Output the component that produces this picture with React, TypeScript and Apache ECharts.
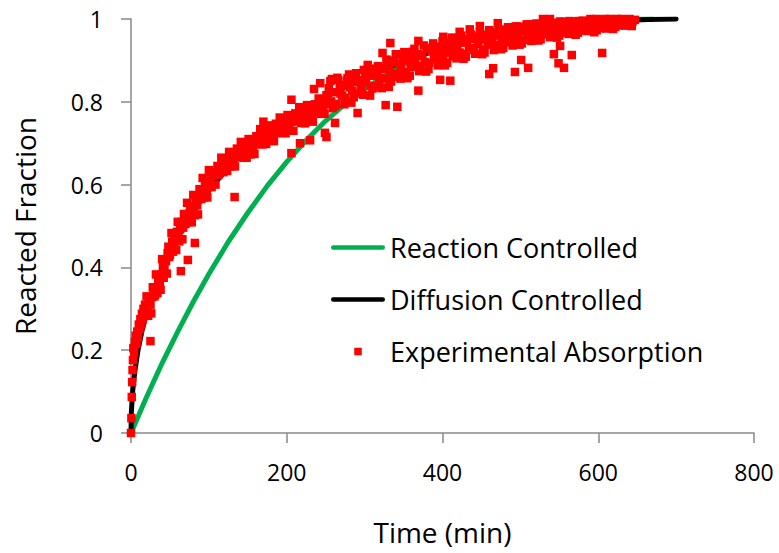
import React, { useEffect, useRef } from "react";
import * as echarts from "echarts";

// Tick settings
const xTicks = { min: 0, max: 800, interval: 200 };
const yTicks = { min: 0, max: 1, interval: 0.2 };

const seriesNames = ["Reaction Controlled", "Diffusion Controlled", "Experimental Absorption"];

// Reaction controlled model curve (time, fraction)
const reactionTime = [0, 20, 40, 60, 80, 100, 125, 150, 175, 200, 225, 250, 275, 300, 350, 400, 450, 500, 550, 600, 670];
const reactionFrac = [0, 0.087, 0.169, 0.245, 0.317, 0.384, 0.462, 0.532, 0.597, 0.655, 0.707, 0.754, 0.795, 0.832, 0.891, 0.935, 0.965, 0.984, 0.994, 0.999, 1];

// Diffusion controlled model curve (time, fraction)
const diffusionTime = [0, 0.45, 2.1, 5, 9, 14.5, 21.5, 30, 40.5, 53, 68, 85, 106, 129, 158, 193, 238, 290, 352, 435, 482, 517, 565, 610, 665, 700];
const diffusionFrac = [0, 0.05, 0.1, 0.15, 0.2, 0.25, 0.3, 0.35, 0.4, 0.45, 0.5, 0.55, 0.6, 0.65, 0.7, 0.75, 0.8, 0.85, 0.9, 0.95, 0.97, 0.98, 0.99, 0.995, 0.999, 1];

// Experimental absorption points [time, fraction]
const expEarly = [
  [0, 0], [0.5, 0.036], [1, 0.087], [1.5, 0.123], [2, 0.152], [2.5, 0.176], [3, 0.205], [4, 0.195],
  [5, 0.22], [6, 0.235], [7, 0.215], [8, 0.245], [9, 0.232], [10, 0.262], [11, 0.25], [12, 0.275],
  [13, 0.262], [14, 0.288], [15, 0.275], [16, 0.3], [17, 0.29], [18, 0.31], [19, 0.298], [25, 0.222],
];
const expRise = [
  [20, 0.33], [22, 0.283], [24, 0.324], [26, 0.289], [28, 0.352], [30, 0.33], [32, 0.383], [34, 0.338],
  [36, 0.376], [38, 0.346], [40, 0.42], [42, 0.375], [44, 0.418], [46, 0.385], [48, 0.45], [50, 0.43],
  [52, 0.483], [54, 0.438], [56, 0.476], [58, 0.442], [60, 0.51], [62, 0.463], [64, 0.504], [66, 0.468],
  [68, 0.529], [70, 0.505], [72, 0.556], [74, 0.509], [76, 0.545], [78, 0.509], [80, 0.575], [82, 0.526],
  [84, 0.565], [86, 0.528], [88, 0.589], [90, 0.565], [92, 0.616], [94, 0.569], [96, 0.605], [98, 0.569], [100, 0.635],
  [21, 0.304], [23, 0.322], [25, 0.31], [27, 0.328], [29, 0.346], [31, 0.334], [33, 0.352], [35, 0.37],
  [37, 0.36], [39, 0.383], [41, 0.405], [43, 0.395], [45, 0.415], [47, 0.435], [49, 0.425], [51, 0.444],
  [53, 0.462], [55, 0.45], [57, 0.468], [59, 0.486], [61, 0.474], [63, 0.492], [65, 0.51], [67, 0.496],
  [69, 0.512], [71, 0.528], [73, 0.514], [75, 0.53], [77, 0.546], [79, 0.532], [81, 0.548], [83, 0.564],
  [85, 0.55], [87, 0.566], [89, 0.582], [91, 0.568], [93, 0.584], [95, 0.6], [97, 0.586], [99, 0.602],
  [64, 0.391], [73, 0.418], [82, 0.459],
];
const expMid = [
  [101, 0.629], [103.5, 0.594], [106, 0.622], [108.5, 0.6], [111, 0.645], [113.5, 0.628], [116, 0.665], [118.5, 0.63],
  [121, 0.659], [123.5, 0.633], [126, 0.679], [128.5, 0.644], [131, 0.669], [133.5, 0.644], [136, 0.687], [138.5, 0.668],
  [141, 0.703], [143.5, 0.665], [146, 0.692], [148.5, 0.665], [151, 0.71], [153.5, 0.673], [156, 0.698], [158.5, 0.674],
  [161, 0.717], [163.5, 0.698], [166, 0.734], [168.5, 0.697], [171, 0.724], [173.5, 0.698], [176, 0.743], [178.5, 0.706],
  [181, 0.73], [183.5, 0.705], [186, 0.747], [188.5, 0.728], [191, 0.762], [193.5, 0.725], [196, 0.751], [198.5, 0.724],
  [201, 0.768], [203.5, 0.731], [206, 0.755], [208.5, 0.73], [211, 0.772], [213.5, 0.753], [216, 0.787], [218.5, 0.749],
  [221, 0.775], [223.5, 0.748], [226, 0.792], [228.5, 0.754], [231, 0.778], [233.5, 0.752], [236, 0.794], [238.5, 0.774],
  [241, 0.808], [243.5, 0.771], [246, 0.798], [248.5, 0.771], [251, 0.816],
  [102, 0.609], [107, 0.628], [112, 0.623], [117, 0.641], [122, 0.659], [127, 0.651], [132, 0.666], [137, 0.68],
  [142, 0.67], [147, 0.683], [152, 0.697], [157, 0.687], [162, 0.702], [167, 0.717], [172, 0.708], [177, 0.722],
  [182, 0.735], [187, 0.724], [192, 0.737], [197, 0.75], [202, 0.739], [207, 0.752], [212, 0.765], [217, 0.754],
  [222, 0.766], [227, 0.779], [232, 0.767], [237, 0.779], [242, 0.791], [247, 0.781], [252, 0.795],
  [133, 0.57], [170, 0.752], [206, 0.805], [206, 0.676], [217, 0.7], [230, 0.707], [235, 0.831], [243, 0.845],
  [249, 0.725], [251, 0.715],
];
const expLateA = [
  [254, 0.833], [257, 0.801], [260, 0.823], [263, 0.795], [266, 0.853], [269, 0.82], [272, 0.84], [275, 0.81],
  [278, 0.857], [281, 0.835], [284, 0.827], [287, 0.855], [290, 0.82], [293, 0.853], [296, 0.835], [299, 0.877],
  [302, 0.848], [305, 0.872], [308, 0.838], [311, 0.863], [314, 0.835], [317, 0.886], [320, 0.858], [323, 0.88],
  [326, 0.856], [329, 0.899], [332, 0.877], [335, 0.866], [338, 0.896], [341, 0.86], [344, 0.891], [347, 0.881],
  [350, 0.91], [353, 0.872], [356, 0.904], [359, 0.884], [362, 0.921], [365, 0.897], [368, 0.915], [371, 0.883],
  [374, 0.911], [377, 0.896], [380, 0.93], [383, 0.894], [386, 0.922], [389, 0.91], [392, 0.933], [395, 0.895],
  [398, 0.923], [401, 0.909], [404, 0.943], [407, 0.919], [410, 0.938], [413, 0.91], [416, 0.954], [419, 0.932],
  [422, 0.919], [425, 0.951], [428, 0.916], [431, 0.943], [434, 0.93], [437, 0.96], [440, 0.925], [443, 0.952],
  [446, 0.939], [449, 0.961], [452, 0.926], [455, 0.951], [458, 0.938], [461, 0.969], [464, 0.944], [467, 0.964],
  [470, 0.937], [473, 0.962], [476, 0.945], [479, 0.974], [482, 0.957], [485, 0.944], [488, 0.973], [491, 0.955],
  [494, 0.982], [497, 0.951], [500, 0.971], [503, 0.95], [506, 0.981], [509, 0.964], [512, 0.987], [515, 0.96],
  [518, 0.977], [521, 0.958], [524, 0.988], [527, 0.971], [530, 0.984], [533, 0.963], [536, 0.993], [539, 0.976],
  [542, 0.967], [545, 0.989], [548, 0.972], [551, 0.994], [554, 0.967], [557, 0.988], [560, 0.976], [563, 0.995],
  [566, 0.971], [569, 0.988], [572, 0.977], [575, 0.995], [578, 0.972], [581, 0.988], [584, 0.979], [587, 0.995],
  [590, 0.978], [593, 0.992], [596, 0.983], [599, 0.997], [602, 0.978], [605, 0.992], [608, 0.985], [611, 0.997],
  [614, 0.982], [617, 0.994], [620, 0.988], [623, 0.998], [626, 0.985], [629, 0.996], [632, 0.989], [635, 0.998],
  [638, 0.988], [641, 0.997], [644, 0.994], [647, 0.998],
];
const expLateB = [
  [256, 0.85], [262, 0.79], [268, 0.835], [274, 0.794], [280, 0.866], [286, 0.811], [292, 0.848], [298, 0.817],
  [304, 0.889], [310, 0.832], [316, 0.871], [322, 0.833], [328, 0.902], [334, 0.849], [340, 0.915], [346, 0.856],
  [352, 0.919], [358, 0.863], [364, 0.928], [370, 0.874], [376, 0.936], [382, 0.879], [388, 0.941], [394, 0.888],
  [400, 0.946], [406, 0.894], [412, 0.955], [418, 0.905], [424, 0.96], [430, 0.909], [436, 0.963], [442, 0.916],
  [448, 0.968], [454, 0.919], [460, 0.973], [466, 0.925], [472, 0.975], [478, 0.93], [484, 0.98], [490, 0.936],
  [496, 0.982], [502, 0.941], [508, 0.987], [514, 0.947], [520, 0.989], [526, 0.951], [532, 0.99], [538, 0.956],
  [544, 0.991], [550, 0.96], [556, 0.993], [562, 0.964], [568, 0.994], [574, 0.967], [580, 0.996], [586, 0.971],
  [592, 0.996], [598, 0.973], [604, 0.996], [610, 0.977], [616, 0.996], [622, 0.981], [628, 0.997], [634, 0.984],
  [640, 0.998],
];
const expLateC = [
  [259, 0.785], [265, 0.858], [271, 0.815], [277, 0.85], [283, 0.798], [289, 0.869], [295, 0.83], [301, 0.863],
  [307, 0.815], [313, 0.88], [319, 0.847], [325, 0.882], [331, 0.836], [337, 0.899], [343, 0.868], [349, 0.901],
  [355, 0.857], [361, 0.915], [367, 0.886], [373, 0.914], [379, 0.873], [385, 0.927], [391, 0.903], [397, 0.93],
  [403, 0.888], [409, 0.942], [415, 0.919], [421, 0.943], [427, 0.904], [433, 0.952], [439, 0.93], [445, 0.953],
  [451, 0.915], [457, 0.96], [463, 0.942], [469, 0.96], [475, 0.927], [481, 0.969], [487, 0.951], [493, 0.969],
  [499, 0.938], [505, 0.976], [511, 0.962], [517, 0.976], [523, 0.948], [529, 0.983], [535, 0.969], [541, 0.982],
  [547, 0.955], [553, 0.987], [559, 0.976], [565, 0.987], [571, 0.962], [577, 0.991], [583, 0.98], [589, 0.99],
  [595, 0.968], [601, 0.993], [607, 0.984], [613, 0.993], [619, 0.976], [625, 0.995], [631, 0.988], [637, 0.996],
  [643, 0.983],
];
const expOutliers = [
  [333, 0.942], [323, 0.918], [369, 0.947], [401, 0.957], [422, 0.969], [435, 0.975], [448, 0.983], [471, 0.99],
  [529, 1.0], [538, 1.0], [590, 1.0], [598, 1.0], [609, 1.0], [615, 1.0], [624, 1.0], [630, 1.0], [640, 1.0],
  [369, 0.827], [410, 0.851], [397, 0.853], [460, 0.867], [465, 0.881], [493, 0.872], [510, 0.882], [501, 0.901],
  [543, 0.915], [549, 0.893], [556, 0.882], [566, 0.913], [605, 0.918], [551, 0.935], [342, 0.788], [327, 0.792],
  [291, 0.773], [262, 0.749], [258, 0.855], [306, 0.875], [351, 0.92],
];

const FONT = "'Open Sans', 'Noto Sans', sans-serif";
const AXIS_COLOR = "#898989";
const LINE_ICON = "path://M2.25,0h50.5a2.25,2.25 0 0 1 0,4.5h-50.5a2.25,2.25 0 0 1 0,-4.5z";
const SQUARE_ICON = "path://M0,0h10v10h-10z";

export default function App() {
  const ref = useRef<HTMLDivElement>(null);

  useEffect(() => {
    if (!ref.current) return;
    const chart = echarts.init(ref.current, null, { renderer: "svg" });

    const reactionData = reactionTime.map((t, i) => [t, reactionFrac[i]]);
    const diffusionData = diffusionTime.map((t, i) => [t, diffusionFrac[i]]);
    const expData = [...expEarly, ...expRise, ...expMid, ...expLateA, ...expLateB, ...expLateC, ...expOutliers];

    const axisCommon = {
      type: "value" as const,
      nameLocation: "middle" as const,
      nameTextStyle: { fontSize: 28, color: "#000", fontFamily: FONT },
      axisLine: { show: true, lineStyle: { color: AXIS_COLOR, width: 1.5 } },
      axisTick: { show: true, inside: false, length: 10, lineStyle: { color: AXIS_COLOR, width: 1.5 } },
      splitLine: { show: false },
    };

    chart.setOption({
      animation: false,
      backgroundColor: "#ffffff",
      grid: { left: 131, right: 25, top: 19, bottom: 120, containLabel: false },
      xAxis: {
        ...axisCommon,
        ...xTicks,
        name: "Time (min)",
        nameGap: 85,
        axisLabel: { fontSize: 23, color: "#000", fontFamily: FONT, margin: 27 },
      },
      yAxis: {
        ...axisCommon,
        ...yTicks,
        name: "Reacted Fraction",
        nameGap: 92,
        axisLabel: { fontSize: 23, color: "#000", fontFamily: FONT, margin: 28 },
      },
      legend: {
        orient: "vertical",
        left: 326,
        top: 229,
        itemWidth: 54,
        itemHeight: 7.5,
        itemGap: 25,
        symbolKeepAspect: true,
        textStyle: { fontSize: 27, color: "#000", fontFamily: FONT },
        data: [
          { name: seriesNames[0], icon: LINE_ICON },
          { name: seriesNames[1], icon: LINE_ICON },
          { name: seriesNames[2], icon: SQUARE_ICON },
        ],
      },
      series: [
        {
          name: seriesNames[0],
          type: "line",
          data: reactionData,
          symbol: "none",
          lineStyle: { color: "#00B050", width: 5, cap: "round" },
          itemStyle: { color: "#00B050" },
          z: 1,
        },
        {
          name: seriesNames[1],
          type: "line",
          data: diffusionData,
          symbol: "none",
          lineStyle: { color: "#000000", width: 5, cap: "round" },
          itemStyle: { color: "#000000" },
          z: 2,
        },
        {
          name: seriesNames[2],
          type: "scatter",
          data: expData,
          symbol: "rect",
          symbolSize: 8.5,
          itemStyle: { color: "#FF0000", opacity: 1 },
          z: 3,
        },
      ],
    });

    return () => chart.dispose();
  }, []);

  return (
    <div
      ref={ref}
      style={{ position: "absolute", left: 0, top: 0, width: 779, height: 553 }}
    />
  );
}
